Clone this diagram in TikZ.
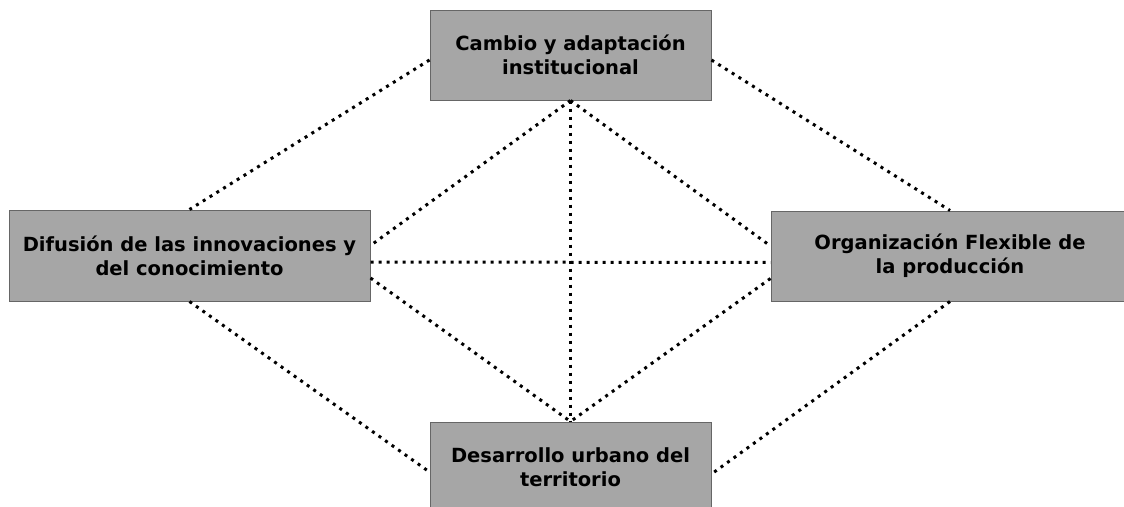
\documentclass[tikz,border=0pt]{standalone}
\usepackage{fontspec}
\setmainfont{DejaVu Sans}
\usetikzlibrary{positioning}

\begin{document}
\begin{tikzpicture}[x=1pt,y=-1pt,
  factor/.style={draw=black!60,line width=1pt,fill=black!35,
    font=\fontsize{19.5}{24}\selectfont\bfseries,align=center,inner sep=0pt},
  link/.style={line width=3pt,dash pattern=on 3pt off 5pt}
]
  \useasboundingbox (0,0) rectangle (1124,506);
  \clip (0,0) rectangle (1124,506);

  % Factores
  \node[factor,minimum width=281pt,minimum height=90pt] (cambio) at (570.5,55)
    {Cambio y adaptación\\institucional};
  \node[factor,minimum width=361pt,minimum height=91pt] (difusion) at (189.5,255.5)
    {Difusión de las innovaciones y\\del conocimiento};
  \node[factor,minimum width=358pt,minimum height=90pt] (organizacion) at (950,256)
    {Organización Flexible de\\la producción};
  \node[factor,minimum width=281pt,minimum height=90pt] (desarrollo) at (570.5,467)
    {Desarrollo urbano del\\territorio};

  % Rombo exterior
  \draw[link] ([yshift=-5pt]cambio.west) -- (difusion.north);
  \draw[link] ([yshift=-5pt]cambio.east) -- (organizacion.north);
  \draw[link] (difusion.south) -- ([yshift=-5pt]desarrollo.west);
  \draw[link] (organizacion.south) -- ([yshift=-7pt]desarrollo.east);

  % Rombo interior y cruz
  \draw[link] (cambio.south) -- ([yshift=10pt]difusion.east);
  \draw[link] (cambio.south) -- ([yshift=10pt]organizacion.west);
  \draw[link] (cambio.south) -- (desarrollo.north);
  \draw[link] ([yshift=-6.5pt]difusion.east) -- ([yshift=-6.5pt]organizacion.west);
  \draw[link] ([yshift=-22.5pt]difusion.east) -- (desarrollo.north);
  \draw[link] ([yshift=-22.5pt]organizacion.west) -- (desarrollo.north);
\end{tikzpicture}
\end{document}
